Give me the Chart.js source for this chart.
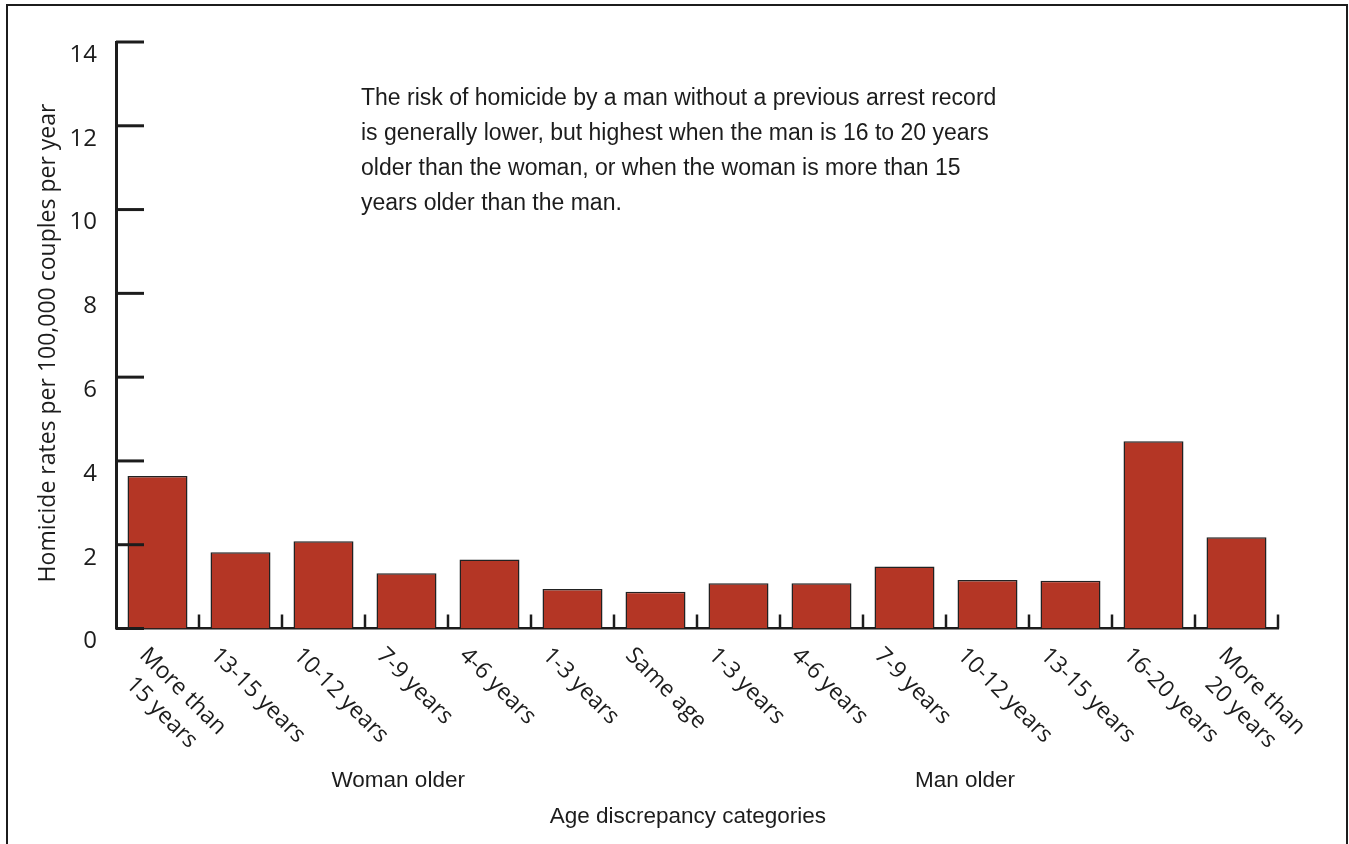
<!DOCTYPE html>
<html lang="en">
<head>
    <meta charset="UTF-8">
    <title>Homicide rates by age discrepancy</title>
    <script src="https://cdn.jsdelivr.net/npm/chart.js@4"></script>
    <style>
        body { margin: 0; background: #fff; }
        #chart { display: block; }
    </style>
</head>
<body>
    <canvas id="chart" width="1349" height="844"></canvas>

    <script>
        // Data
        const categories = [
            ['More than', '15 years'], '13-15 years', '10-12 years', '7-9 years', '4-6 years', '1-3 years',
            'Same age',
            '1-3 years', '4-6 years', '7-9 years', '10-12 years', '13-15 years', '16-20 years', ['More than', '20 years']
        ];
        const rates = [3.64, 1.82, 2.08, 1.32, 1.65, 0.94, 0.88, 1.08, 1.08, 1.48, 1.16, 1.14, 4.47, 2.18];
        const yTicks = [0, 2, 4, 6, 8, 10, 12, 14];

        const yTitle = 'Homicide rates per 100,000 couples per year';
        const xTitle = 'Age discrepancy categories';
        const groupLabels = ['Woman older', 'Man older'];
        const note = [
            'The risk of homicide by a man without a previous arrest record',
            'is generally lower, but highest when the man is 16 to 20 years',
            'older than the woman, or when the woman is more than 15',
            'years older than the man.'
        ];

        const ink = '#1c1c1c';
        const tickFont = '"Open Sans", "Noto Sans", sans-serif';
        const textFont = '"Liberation Sans", Arial, sans-serif';

        // extra marks: inward ticks, rotated labels, notes, frame
        const decorations = {
            id: 'decorations',
            afterDraw(chart) {
                const ctx = chart.ctx;
                const x = chart.scales.x;
                const y = chart.scales.y;
                const area = chart.chartArea;
                const axisY = y.getPixelForValue(0);

                ctx.save();
                ctx.strokeStyle = ink;
                ctx.fillStyle = ink;

                // y ticks pointing into the plot
                ctx.lineWidth = 3;
                yTicks.forEach(v => {
                    const py = y.getPixelForValue(v);
                    ctx.beginPath();
                    ctx.moveTo(area.left, py);
                    ctx.lineTo(area.left + 28, py);
                    ctx.stroke();
                });

                // small ticks between categories
                ctx.lineWidth = 2.5;
                const half = (x.getPixelForValue(1) - x.getPixelForValue(0)) / 2;
                for (let i = 0; i < categories.length; i++) {
                    const px = x.getPixelForValue(i) + half;
                    ctx.beginPath();
                    ctx.moveTo(px, axisY - 14);
                    ctx.lineTo(px, axisY);
                    ctx.stroke();
                }

                // category labels, rotated 45 degrees downwards
                ctx.font = '23px ' + tickFont;
                ctx.textAlign = 'left';
                ctx.textBaseline = 'alphabetic';
                categories.forEach((lab, i) => {
                    const lines = Array.isArray(lab) ? lab : [lab];
                    const widths = lines.map(l => ctx.measureText(l).width);
                    const bw = Math.max(...widths);
                    const cx = x.getPixelForValue(i) + 12 * (lines.length - 1);
                    ctx.save();
                    ctx.translate(cx - 19 - 12, axisY + 16 + 12);
                    ctx.rotate(Math.PI / 4);
                    lines.forEach((l, j) => ctx.fillText(l, (bw - widths[j]) / 2, j * 30));
                    ctx.restore();
                });

                // y axis title
                ctx.font = '23px ' + tickFont;
                ctx.save();
                ctx.translate(48, 343);
                ctx.rotate(-Math.PI / 2);
                ctx.textAlign = 'center';
                ctx.textBaseline = 'middle';
                ctx.fillText(yTitle, 0, 0);
                ctx.restore();

                // group labels and x title
                ctx.font = '22.5px ' + textFont;
                ctx.textAlign = 'center';
                ctx.fillText(groupLabels[0], x.getPixelForValue(2.9), 786.5);
                ctx.fillText(groupLabels[1], x.getPixelForValue(9.73), 786.5);
                ctx.fillText(xTitle, x.getPixelForValue(6.39), 823);

                // annotation
                ctx.font = '23px ' + textFont;
                ctx.textAlign = 'left';
                note.forEach((l, j) => ctx.fillText(l, 361, 105 + j * 35));

                // outer frame
                ctx.lineWidth = 2;
                ctx.strokeRect(7, 5, 1340, 900);
                ctx.restore();
            }
        };

        const ctx = document.getElementById('chart').getContext('2d');
        const chart = new Chart(ctx, {
            type: 'bar',
            data: {
                labels: categories,
                datasets: [{
                    data: rates,
                    backgroundColor: '#b43625',
                    borderColor: '#222',
                    borderWidth: 1.5,
                    barPercentage: 0.723,
                    categoryPercentage: 1
                }]
            },
            options: {
                responsive: false,
                animation: false,
                layout: { padding: { top: 42, right: 71, left: 0, bottom: 0 } },
                plugins: {
                    legend: { display: false },
                    tooltip: { enabled: false }
                },
                scales: {
                    x: {
                        grid: { display: false, drawTicks: false },
                        border: { display: true, color: ink, width: 2.5 },
                        ticks: { display: false },
                        afterFit: s => { s.height = 844 - 628.5; }
                    },
                    y: {
                        min: 0,
                        max: 14,
                        afterBuildTicks: s => { s.ticks = yTicks.map(v => ({ value: v })); },
                        grid: { display: false, drawTicks: false },
                        border: { display: true, color: ink, width: 3 },
                        ticks: {
                            color: ink,
                            font: { family: tickFont, size: 24 },
                            padding: 19,
                            labelOffset: 13
                        },
                        afterFit: s => { s.width = 116; }
                    }
                }
            },
            plugins: [decorations]
        });
    </script>
</body>
</html>
